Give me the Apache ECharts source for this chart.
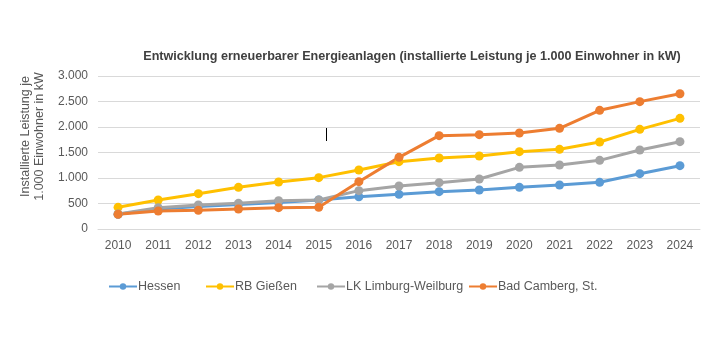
<!DOCTYPE html>
<html><head><meta charset="utf-8">
<script src="https://cdn.jsdelivr.net/npm/echarts@6/dist/echarts.min.js"></script>
<style>html,body{margin:0;padding:0;background:#fff}#c{width:726px;height:346px}</style>
</head><body><div id="c"></div>
<script>
const years = ['2010','2011','2012','2013','2014','2015','2016','2017','2018','2019','2020','2021','2022','2023','2024'];
const hessen = [290, 390, 440, 480, 520, 570, 633, 680, 732, 765, 817, 862, 915, 1085, 1242];
const rbGiessen = [425, 569, 693, 817, 922, 1007, 1157, 1320, 1392, 1431, 1516, 1562, 1706, 1954, 2170];
const lkLimburg = [295, 418, 471, 503, 555, 569, 752, 843, 908, 980, 1209, 1255, 1346, 1549, 1712];
const badCamberg = [288, 353, 366, 392, 418, 425, 928, 1405, 1830, 1850, 1882, 1974, 2327, 2497, 2653];
const yTicks = ['0','500','1.000','1.500','2.000','2.500','3.000'];

const names = ['Hessen','RB Gießen','LK Limburg-Weilburg','Bad Camberg, St.'];
const colors = ['#5B9BD5','#FFC000','#A5A5A5','#ED7D31'];
const datas = [hessen, rbGiessen, lkLimburg, badCamberg];
const legendLeft = [108, 205, 316, 468];
const font = 'Liberation Sans, Arial, sans-serif';

const chart = echarts.init(document.getElementById('c'), null, {renderer:'canvas'});
chart.setOption({
  animation: false,
  title: {
    text: 'Entwicklung erneuerbarer Energieanlagen (installierte Leistung je 1.000 Einwohner in kW)',
    left: 407, top: 45, textAlign: 'center',
    textStyle: {fontFamily: font, fontSize: 12.6, fontWeight: 'bold', color: '#404040'}
  },
  legend: names.map((n, i) => ({
    data: [n], left: legendLeft[i], top: 280, padding: 0, itemWidth: 28, itemHeight: 8, itemGap: 2,
    textStyle: {fontFamily: font, fontSize: 12.5, color: '#595959', padding: [0,0,0,-4]}
  })),
  grid: {left: 98, right: 26, top: 76, bottom: 117, containLabel: false},
  xAxis: {
    type: 'category', data: years, boundaryGap: true,
    axisLine: {show: true, lineStyle: {color: '#D9D9D9'}},
    axisTick: {show: false},
    axisLabel: {fontFamily: font, fontSize: 12, color: '#595959', margin: 11}
  },
  yAxis: {
    type: 'value', min: 0, max: 3000, interval: 500,
    name: 'Installierte Leistung je\n1.000 Einwohner in kW',
    nameLocation: 'middle', nameGap: 51, nameRotate: 90,
    nameTextStyle: {fontFamily: font, fontSize: 12.5, color: '#595959', lineHeight: 14, padding: [0,0,0,32]},
    axisLine: {show: false}, axisTick: {show: false},
    splitLine: {lineStyle: {color: '#D9D9D9'}},
    axisLabel: {fontFamily: font, fontSize: 12, color: '#595959', margin: 10,
      formatter: v => yTicks[Math.round(v/500)]}
  },
  series: names.map((n, i) => ({
    name: n, type: 'line', data: datas[i], color: colors[i],
    symbol: 'circle', symbolSize: 9,
    lineStyle: {width: 3, color: colors[i]},
    itemStyle: {color: colors[i]}
  })),
  graphic: [{type: 'line', shape: {x1: 326.5, y1: 127, x2: 326.5, y2: 141}, style: {stroke: '#000', lineWidth: 1}}]
});
</script></body></html>
